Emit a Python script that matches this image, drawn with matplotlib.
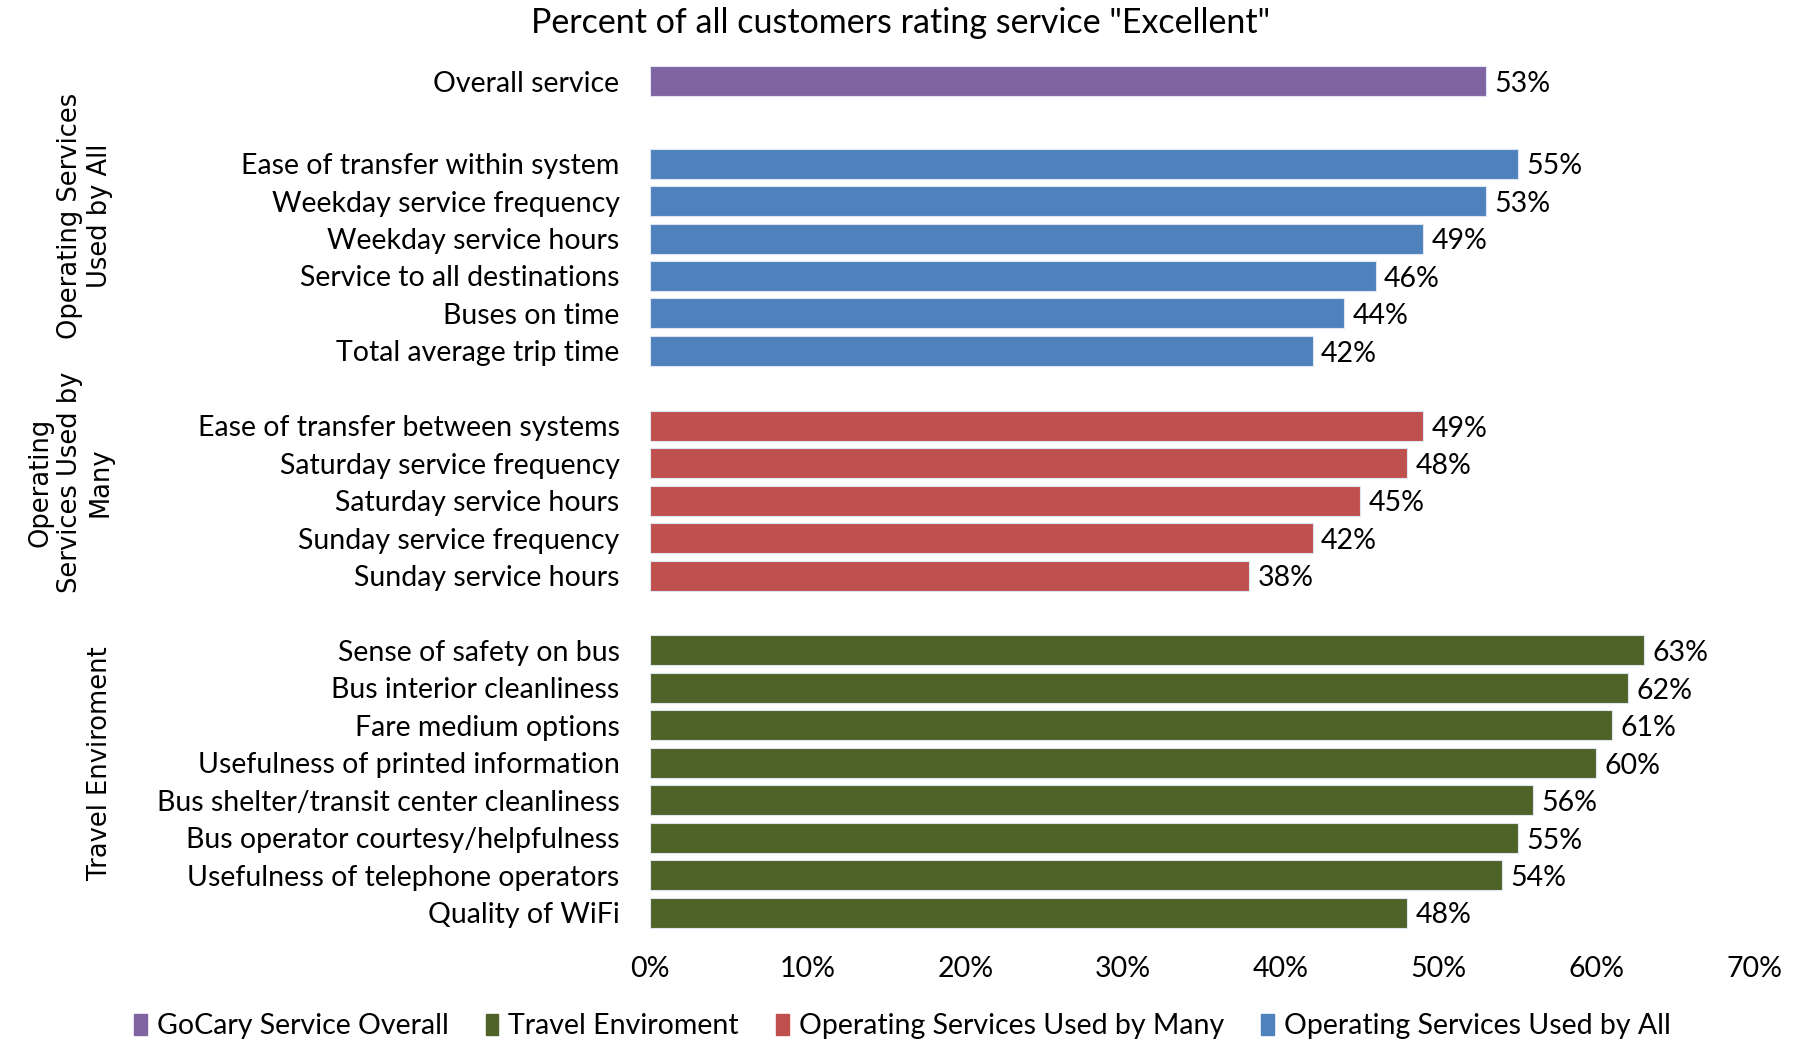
import numpy as np
import matplotlib
matplotlib.use('Agg')
from matplotlib import pyplot as plt
from matplotlib.transforms import blended_transform_factory
from matplotlib.patches import Patch

plt.rcParams['font.family'] = ['Lato', 'DejaVu Sans']

overall_labels = ['Overall service']
overall_values = [53]

all_labels = ['Ease of transfer within system', 'Weekday service frequency', 'Weekday service hours',
              'Service to all destinations', 'Buses on time', 'Total average trip time']
all_values = [55, 53, 49, 46, 44, 42]

many_labels = ['Ease of transfer between systems', 'Saturday service frequency', 'Saturday service hours',
               'Sunday service frequency', 'Sunday service hours']
many_values = [49, 48, 45, 42, 38]

travel_labels = ['Sense of safety on bus', 'Bus interior cleanliness', 'Fare medium options',
                 'Usefulness of printed information', 'Bus shelter/transit center cleanliness',
                 'Bus operator courtesy/helpfulness', 'Usefulness of telephone operators', 'Quality of WiFi']
travel_values = [63, 62, 61, 60, 56, 55, 54, 48]

legend_names = ['GoCary Service Overall', 'Travel Enviroment', 'Operating Services Used by Many',
                'Operating Services Used by All']
group_titles = ['Operating Services\nUsed by All', 'Operating\nServices Used by\nMany', 'Travel Enviroment']

purple = '#8064A2'
green = '#4F6228'
red = '#C0504D'
blue = '#4F81BD'

# row positions (blank rows between groups)
y_overall = np.array([-0.2])
y_all = np.arange(2, 8)
y_many = np.arange(9, 14)
y_travel = np.arange(15, 23)

fig = plt.figure(figsize=(18.01, 10.42), dpi=100)
ax = fig.add_axes([0.361, 0.099, 0.613, 0.841])

fs = 20.5
for ys, vals, col in [(y_overall, overall_values, purple), (y_all, all_values, blue),
                      (y_many, many_values, red), (y_travel, travel_values, green)]:
    bars = ax.barh(ys, vals, height=0.8, color=col, edgecolor='#dde6f0', linewidth=0.8)
    for b, v in zip(bars, vals):
        ax.annotate('%d%%' % v, (b.get_width(), b.get_y() + b.get_height() / 2),
                    xytext=(6, -2), textcoords='offset points', va='center', ha='left', fontsize=fs)

ax.set_yticks(np.concatenate([y_overall, y_all, y_many, y_travel]))
ax.set_yticklabels(overall_labels + all_labels + many_labels + travel_labels, fontsize=fs)
ax.set_ylim(22.7, -0.7)
ax.set_xlim(0, 70)
ax.set_xticks(np.arange(0, 71, 10))
ax.set_xticklabels(['%d%%' % t for t in range(0, 71, 10)], fontsize=fs)
ax.tick_params(axis='y', length=0, pad=22)
ax.tick_params(axis='x', length=0, pad=12)
for s in ax.spines.values():
    s.set_visible(False)

fig.text(0.5, 0.978, 'Percent of all customers rating service "Excellent"', fontsize=24.5,
         ha='center', va='center')

tr = blended_transform_factory(fig.transFigure, ax.transData)
for t, yc in zip(group_titles, [3.4, 10.5, 18]):
    ax.text(0.063, yc, t, transform=tr, rotation=90, ha='right', va='center', multialignment='center',
            fontsize=18.5, family='DejaVu Sans')

handles = [Patch(color=c) for c in [purple, green, red, blue]]
fig.legend(handles, legend_names, loc='lower center', bbox_to_anchor=(0.501, -0.022), ncol=4,
           frameon=False, fontsize=fs, handlelength=0.45, handleheight=0.8, handletextpad=0.35,
           columnspacing=1.3)

fig.savefig('out.png', dpi=100)
